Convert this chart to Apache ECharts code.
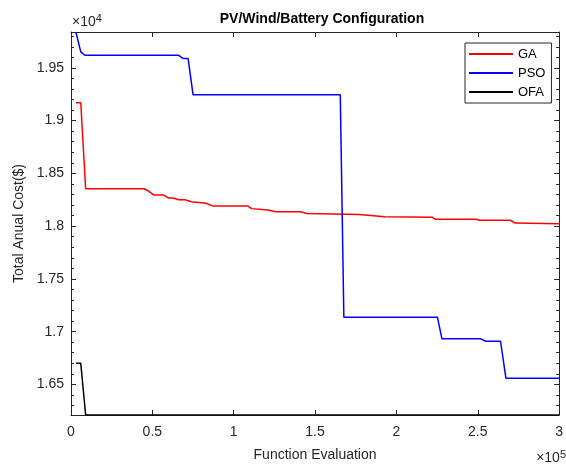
<!DOCTYPE html>
<html>
<head>
<meta charset="utf-8">
<script src="https://cdn.jsdelivr.net/npm/echarts@6/dist/echarts.min.js"></script>
<style>
  html, body { margin: 0; padding: 0; background: #fff; }
  #chart { width: 566px; height: 467px; }
</style>
</head>
<body>
<div id="chart"></div>
<script>
// breakpoints of each convergence curve
var gaX = [3000, 6000, 9000, 45000, 47000, 51000, 57000, 60000, 63000, 66000, 70000, 74000,
           83000, 87000, 108500, 111000, 121000, 126000, 141000, 145000, 177000, 193000,
           222000, 224000, 249000, 251000, 270000, 273000, 300000];
var gaY = [19170, 19170, 18354, 18354, 18338, 18295, 18295, 18266, 18266, 18250, 18250, 18231,
           18217, 18192, 18192, 18166, 18153, 18136, 18136, 18120, 18110, 18088,
           18085, 18065, 18065, 18056, 18056, 18029, 18022];

var psoX = [3000, 6000, 8500, 66000, 69000, 72000, 75000, 165500, 167700, 225200, 228000,
            251800, 255000, 264000, 267300, 300000];
var psoY = [19840, 19652, 19620, 19620, 19588, 19588, 19246, 19246, 17137, 17137, 16932,
            16932, 16909, 16909, 16559, 16559];

var ofaX = [3000, 6000, 9000, 300000];
var ofaY = [16700, 16700, 16210, 16210];

var xTicks = [0, 50000, 100000, 150000, 200000, 250000, 300000];
var yTicks = [16500, 17000, 17500, 18000, 18500, 19000, 19500];
var yMinorTicks = [16300, 16400, 16600, 16700, 16800, 16900, 17100, 17200, 17300, 17400,
                   17600, 17700, 17800, 17900, 18100, 18200, 18300, 18400, 18600, 18700,
                   18800, 18900, 19100, 19200, 19300, 19400, 19600, 19700, 19800];

var yMin = 16210, yMax = 19840;

function pairs(xs, ys) {
    return xs.map(function(x, i){ return [x, ys[i]]; });
}

var axisColor = '#262626';
var font = 'Arial, "Liberation Sans", sans-serif';

function yAxisSet(pos, minor) {
    return {
        type: 'value', position: pos, min: yMin, max: yMax,
        axisLine: {show: !minor, lineStyle: {color: axisColor, width: 1}},
        axisTick: {show: true, inside: true, length: minor ? 3 : 5,
                   customValues: minor ? yMinorTicks : yTicks,
                   lineStyle: {color: axisColor, width: 1}},
        axisLabel: {show: pos == 'left' && !minor, customValues: yTicks, margin: 7,
                    color: axisColor, fontSize: 14, fontFamily: font,
                    formatter: function(v){ return String(parseFloat((v / 1e4).toFixed(2))); }},
        splitLine: {show: false},
        name: (pos == 'left' && !minor) ? 'Total Anual Cost($)' : '',
        nameLocation: 'middle', nameGap: 39,
        nameTextStyle: {color: axisColor, fontSize: 14, fontFamily: font}
    };
}

function xAxisSet(pos) {
    return {
        type: 'value', position: pos, min: 0, max: 300000, interval: 50000,
        axisLine: {show: true, lineStyle: {color: axisColor, width: 1}},
        axisTick: {show: true, inside: true, length: 5, lineStyle: {color: axisColor, width: 1}},
        axisLabel: {show: pos == 'bottom', margin: 10, color: axisColor, fontSize: 14, fontFamily: font,
                    formatter: function(v){ return String(parseFloat((v / 1e5).toFixed(2))); }},
        splitLine: {show: false},
        name: pos == 'bottom' ? 'Function Evaluation' : '',
        nameLocation: 'middle', nameGap: 33,
        nameTextStyle: {color: axisColor, fontSize: 14, fontFamily: font}
    };
}

var chart = echarts.init(document.getElementById('chart'));
chart.setOption({
    animation: false,
    backgroundColor: '#fff',
    title: {
        text: 'PV/Wind/Battery Configuration', left: 317, top: 7, textAlign: 'center',
        textStyle: {fontSize: 14, fontWeight: 'bold', color: '#000', fontFamily: font}
    },
    grid: {left: 71, right: 3, top: 32, bottom: 48},
    xAxis: [xAxisSet('bottom'), xAxisSet('top')],
    yAxis: [yAxisSet('left', false), yAxisSet('left', true), yAxisSet('right', false), yAxisSet('right', true)],
    legend: {
        orient: 'vertical', left: 465, top: 43,
        backgroundColor: '#fff', borderColor: '#262626', borderWidth: 1,
        padding: [4, 6, 4, 4], itemWidth: 44, itemHeight: 2, itemGap: 5, icon: 'rect',
        textStyle: {color: '#000', fontSize: 13, fontFamily: font, lineHeight: 14},
        data: ['GA', 'PSO', 'OFA']
    },
    graphic: [
        {type: 'text', left: 72, top: 13,
         style: {text: '×10{s|4}', fill: axisColor, font: '14px ' + font,
                 rich: {s: {fontSize: 11, verticalAlign: 'top', padding: [0, 0, 7, 0], fill: axisColor}}}},
        {type: 'text', right: 0, top: 449,
         style: {text: '×10{s|5}', fill: axisColor, font: '14px ' + font,
                 rich: {s: {fontSize: 11, verticalAlign: 'top', padding: [0, 0, 7, 0], fill: axisColor}}}}
    ],
    series: [
        {name: 'GA', type: 'line', data: pairs(gaX, gaY), symbol: 'none',
         lineStyle: {color: '#ff0000', width: 1.5}, itemStyle: {color: '#ff0000'}},
        {name: 'PSO', type: 'line', data: pairs(psoX, psoY), symbol: 'none',
         lineStyle: {color: '#0000ff', width: 1.5}, itemStyle: {color: '#0000ff'}},
        {name: 'OFA', type: 'line', data: pairs(ofaX, ofaY), symbol: 'none',
         lineStyle: {color: '#000000', width: 1.5}, itemStyle: {color: '#000000'}}
    ]
});
</script>
</body>
</html>
